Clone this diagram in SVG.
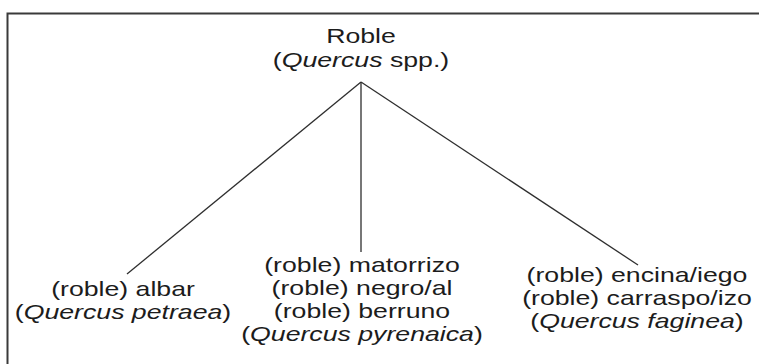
<svg xmlns="http://www.w3.org/2000/svg" width="759" height="364" viewBox="0 0 759 364">
<style>
text{font-family:"Liberation Sans",Arial,sans-serif;font-size:21px;fill:#1c1c1c;text-anchor:middle}
.i{font-style:italic}
.frame{stroke:#3a3a3a;stroke-width:2;fill:none}
.edge{stroke:#2e2e2e;stroke-width:1.3;fill:none}
</style>
<rect width="759" height="364" fill="#ffffff"/>
<g id="frame">
<path class="frame" d="M7.5,364 V13.5 H759"/>
</g>
<g id="connectors">
<line class="edge" x1="361" y1="82" x2="127" y2="274"/>
<line class="edge" x1="361" y1="82" x2="361" y2="252"/>
<line class="edge" x1="361" y1="82" x2="638" y2="265"/>
</g>
<g id="root" transform="translate(361,0) scale(1.27,1)">
<text x="0" y="43">Roble</text>
<text x="0" y="67">(<tspan class="i">Quercus</tspan> spp.)</text>
</g>
<g id="petraea" transform="translate(123,0) scale(1.27,1)">
<text x="0" y="296">(roble) albar</text>
<text x="0" y="319">(<tspan class="i">Quercus petraea</tspan>)</text>
</g>
<g id="pyrenaica" transform="translate(362,0) scale(1.27,1)">
<text x="0" y="272">(roble) matorrizo</text>
<text x="0" y="295">(roble) negro/al</text>
<text x="0" y="318">(roble) berruno</text>
<text x="0" y="341">(<tspan class="i">Quercus pyrenaica</tspan>)</text>
</g>
<g id="faginea" transform="translate(637,0) scale(1.27,1)">
<text x="0" y="282">(roble) encina/iego</text>
<text x="0" y="305">(roble) carraspo/izo</text>
<text x="0" y="328">(<tspan class="i">Quercus faginea</tspan>)</text>
</g>
</svg>
